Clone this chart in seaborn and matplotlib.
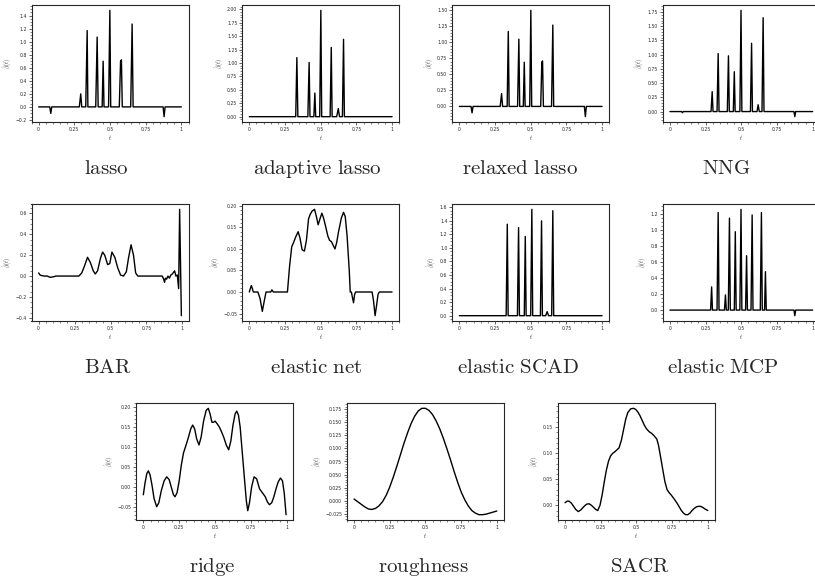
import numpy as np
import pandas as pd
import matplotlib
matplotlib.use("Agg")
import matplotlib.pyplot as plt
from matplotlib.ticker import MultipleLocator
import seaborn as sns

# -----------------------------
# 1. DATA
# -----------------------------
lasso_t = [0, 0.078, 0.085, 0.092, 0.285, 0.295, 0.302, 0.33, 0.34, 0.345,
           0.40, 0.41, 0.417, 0.445, 0.452, 0.458, 0.49, 0.499, 0.505,
           0.565, 0.574, 0.58, 0.586, 0.645, 0.655, 0.662, 0.872, 0.879, 0.886, 1.0]
lasso_y = [0, 0, -0.10, 0, 0, 0.20, 0, 0, 1.17, 0,
           0, 1.07, 0, 0, 0.70, 0, 0, 1.48, 0,
           0, 0.70, 0.72, 0, 0, 1.27, 0, 0, -0.15, 0, 0]

adalasso_t = [0, 0.325, 0.333, 0.340, 0.410, 0.419, 0.425, 0.452, 0.459, 0.465,
              0.493, 0.501, 0.507, 0.566, 0.574, 0.580, 0.612, 0.623, 0.632,
              0.652, 0.660, 0.666, 1.0]
adalasso_y = [0, 0, 1.10, 0, 0, 1.01, 0, 0, 0.44, 0,
              0, 1.98, 0, 0, 1.29, 0, 0, 0.15, 0,
              0, 1.44, 0, 0]

relaxed_t = [0, 0.082, 0.089, 0.096, 0.286, 0.296, 0.303, 0.335, 0.343, 0.349,
             0.408, 0.417, 0.423, 0.448, 0.455, 0.461, 0.493, 0.501, 0.507,
             0.570, 0.578, 0.583, 0.589, 0.646, 0.655, 0.661, 0.876, 0.883, 0.890, 1.0]
relaxed_y = [0, 0, -0.10, 0, 0, 0.20, 0, 0, 1.17, 0,
             0, 1.05, 0, 0, 0.69, 0, 0, 1.50, 0,
             0, 0.69, 0.71, 0, 0, 1.27, 0, 0, -0.16, 0, 0]

nng_t = [0, 0.082, 0.088, 0.094, 0.288, 0.296, 0.302, 0.330, 0.338, 0.344,
         0.402, 0.410, 0.416, 0.444, 0.451, 0.457, 0.490, 0.498, 0.504,
         0.564, 0.572, 0.578, 0.610, 0.618, 0.626, 0.645, 0.653, 0.659,
         0.869, 0.875, 0.881, 1.0]
nng_y = [0, 0, -0.02, 0, 0, 0.35, 0, 0, 1.02, 0,
         0, 0.98, 0, 0, 0.70, 0, 0, 1.78, 0,
         0, 1.20, 0, 0, 0.12, 0, 0, 1.65, 0,
         0, -0.09, 0, 0]

bar_t = [0, 0.01, 0.02, 0.04, 0.06, 0.08, 0.10, 0.12, 0.20, 0.28,
         0.30, 0.32, 0.34, 0.36, 0.38, 0.394, 0.41, 0.43, 0.445, 0.46,
         0.48, 0.495, 0.51, 0.53, 0.55, 0.57, 0.59, 0.61, 0.625, 0.643,
         0.66, 0.675, 0.69, 0.75, 0.86, 0.87, 0.876, 0.882, 0.89, 0.90,
         0.91, 0.92, 0.93, 0.946, 0.955, 0.965, 0.974, 0.981, 0.993]
bar_y = [0.03, 0.01, 0.005, 0.0, 0.0, -0.012, -0.008, 0.0, 0.0, 0.0,
         0.03, 0.10, 0.18, 0.13, 0.05, 0.02, 0.05, 0.17, 0.23, 0.20,
         0.11, 0.12, 0.23, 0.18, 0.08, 0.01, 0.0, 0.04, 0.17, 0.30,
         0.20, 0.03, 0.0, 0.0, 0.0, -0.03, -0.06, -0.02, -0.03, 0.0,
         -0.02, 0.01, 0.02, 0.05, 0.0, 0.01, -0.12, 0.64, -0.38]

enet_t = [0, 0.007, 0.014, 0.021, 0.028, 0.06, 0.075, 0.091, 0.105, 0.117,
          0.15, 0.158, 0.162, 0.168, 0.20, 0.267, 0.282, 0.297, 0.31, 0.325,
          0.342, 0.355, 0.37, 0.386, 0.40, 0.415, 0.426, 0.44, 0.457, 0.47,
          0.482, 0.495, 0.508, 0.52, 0.536, 0.55, 0.562, 0.575, 0.60, 0.612,
          0.625, 0.645, 0.66, 0.672, 0.685, 0.70, 0.707, 0.715, 0.722, 0.73,
          0.738, 0.745, 0.86, 0.87, 0.881, 0.892, 0.902, 0.911, 1.0]
enet_y = [0, 0.008, 0.015, 0.008, 0, 0, -0.015, -0.045, -0.02, 0,
          0, 0.005, 0.003, 0, 0, 0, 0.06, 0.105, 0.115, 0.128,
          0.140, 0.125, 0.098, 0.095, 0.120, 0.170, 0.180, 0.188, 0.192, 0.175,
          0.156, 0.170, 0.183, 0.172, 0.150, 0.130, 0.120, 0.117, 0.100, 0.115,
          0.140, 0.172, 0.185, 0.175, 0.130, 0.05, 0, 0, -0.012, -0.025,
          -0.005, 0, 0, -0.02, -0.055, -0.03, -0.005, 0, 0]

escad_t = [0, 0.328, 0.336, 0.342, 0.407, 0.415, 0.421, 0.455, 0.462, 0.468,
           0.500, 0.508, 0.514, 0.568, 0.576, 0.582, 0.605, 0.615, 0.625,
           0.647, 0.655, 0.661, 1.0]
escad_y = [0, 0, 1.35, 0, 0, 1.30, 0, 0, 1.17, 0,
           0, 1.57, 0, 0, 1.40, 0, 0, 0.06, 0,
           0, 1.55, 0, 0]

emcp_t = [0, 0.285, 0.292, 0.298, 0.330, 0.338, 0.344, 0.382, 0.389, 0.395,
          0.409, 0.417, 0.423, 0.451, 0.458, 0.464, 0.490, 0.498, 0.504,
          0.530, 0.537, 0.543, 0.568, 0.576, 0.582, 0.633, 0.641, 0.647,
          0.663, 0.669, 0.675, 0.869, 0.875, 0.881, 1.0]
emcp_y = [0, 0, 0.29, 0, 0, 1.22, 0, 0, 0.19, 0,
          0, 1.15, 0, 0, 0.98, 0, 0, 1.26, 0,
          0, 0.68, 0, 0, 1.19, 0, 0, 1.22, 0,
          0, 0.48, 0, 0, -0.07, 0, 0]

ridge_t = [0, 0.012, 0.024, 0.035, 0.047, 0.06, 0.075, 0.093, 0.108, 0.125,
           0.145, 0.163, 0.18, 0.198, 0.21, 0.221, 0.235, 0.25, 0.265, 0.28,
           0.298, 0.315, 0.33, 0.344, 0.358, 0.372, 0.388, 0.403, 0.42, 0.438,
           0.453, 0.466, 0.478, 0.49, 0.50, 0.515, 0.53, 0.545, 0.56, 0.578,
           0.595, 0.61, 0.625, 0.64, 0.651, 0.663, 0.675, 0.69, 0.705, 0.718,
           0.728, 0.74, 0.755, 0.772, 0.79, 0.81, 0.83, 0.85, 0.865, 0.879,
           0.895, 0.91, 0.925, 0.94, 0.956, 0.97, 0.982, 0.995]
ridge_y = [-0.020, 0.010, 0.033, 0.040, 0.030, 0.005, -0.030, -0.050, -0.040, -0.010,
           0.015, 0.025, 0.018, -0.005, -0.020, -0.025, -0.015, 0.015, 0.055, 0.085,
           0.105, 0.125, 0.145, 0.155, 0.145, 0.120, 0.105, 0.125, 0.165, 0.192,
           0.197, 0.182, 0.162, 0.162, 0.165, 0.158, 0.150, 0.138, 0.125, 0.105,
           0.093, 0.115, 0.155, 0.183, 0.190, 0.180, 0.150, 0.085, 0.020, -0.035,
           -0.060, -0.040, 0.000, 0.025, 0.020, -0.005, -0.015, -0.025, -0.038, -0.045,
           -0.040, -0.025, -0.005, 0.012, 0.022, 0.015, -0.015, -0.070]

rough_t = [0, 0.025, 0.05, 0.075, 0.10, 0.125, 0.15, 0.175, 0.20, 0.225,
           0.25, 0.275, 0.30, 0.325, 0.35, 0.375, 0.40, 0.425, 0.45, 0.475,
           0.50, 0.525, 0.55, 0.575, 0.60, 0.625, 0.65, 0.675, 0.70, 0.725,
           0.75, 0.775, 0.80, 0.825, 0.85, 0.875, 0.90, 0.925, 0.95, 0.975, 1.0]
rough_y = [0.003, -0.002, -0.007, -0.012, -0.016, -0.017, -0.015, -0.010, -0.002, 0.010,
           0.026, 0.045, 0.066, 0.088, 0.110, 0.130, 0.148, 0.162, 0.172, 0.177,
           0.177, 0.173, 0.165, 0.153, 0.138, 0.120, 0.100, 0.079, 0.057, 0.036,
           0.017, 0.002, -0.010, -0.019, -0.024, -0.027, -0.027, -0.026, -0.024, -0.022, -0.020]

sacr_t = [0, 0.015, 0.028, 0.045, 0.06, 0.075, 0.093, 0.11, 0.13, 0.15,
          0.168, 0.185, 0.20, 0.215, 0.229, 0.245, 0.26, 0.275, 0.29, 0.305,
          0.32, 0.335, 0.346, 0.362, 0.378, 0.395, 0.41, 0.425, 0.44, 0.46,
          0.479, 0.495, 0.51, 0.525, 0.54, 0.555, 0.57, 0.59, 0.607, 0.625,
          0.643, 0.655, 0.67, 0.685, 0.70, 0.715, 0.73, 0.743, 0.757, 0.77,
          0.785, 0.80, 0.815, 0.83, 0.845, 0.86, 0.875, 0.89, 0.905, 0.92,
          0.935, 0.95, 0.965, 0.98, 1.0]
sacr_y = [0.005, 0.008, 0.008, 0.004, -0.002, -0.008, -0.012, -0.009, -0.003, 0.002,
          0.003, 0.000, -0.004, -0.008, -0.010, 0.000, 0.020, 0.045, 0.068, 0.085,
          0.095, 0.100, 0.102, 0.106, 0.110, 0.125, 0.145, 0.165, 0.178, 0.185,
          0.186, 0.184, 0.179, 0.172, 0.163, 0.154, 0.147, 0.141, 0.138, 0.133,
          0.127, 0.115, 0.092, 0.068, 0.045, 0.030, 0.024, 0.020, 0.015, 0.010,
          0.004, -0.003, -0.010, -0.015, -0.018, -0.018, -0.015, -0.010, -0.006, -0.003,
          -0.002, -0.002, -0.004, -0.007, -0.010]

names = ["lasso", "adaptive lasso", "relaxed lasso", "NNG",
         "BAR", "elastic net", "elastic SCAD", "elastic MCP",
         "ridge", "roughness", "SACR"]
curves = [(lasso_t, lasso_y), (adalasso_t, adalasso_y), (relaxed_t, relaxed_y), (nng_t, nng_y),
          (bar_t, bar_y), (enet_t, enet_y), (escad_t, escad_y), (emcp_t, emcp_y),
          (ridge_t, ridge_y), (rough_t, rough_y), (sacr_t, sacr_y)]
# y tick spacing where the automatic choice differs from the reference
ytick_step = [0.2, None, None, None, None, None, None, None, None, None, 0.05]

# -----------------------------
# 2. LAYOUT (pixels in a 815x585 figure)
# -----------------------------
W, H = 815, 585
ax_w, ax_h = 157, 117
lefts = [31.5, 242.2, 452.2, 662.8, 31.5, 242.2, 452.2, 662.8, 136.2, 346.9, 557.9]
tops = [5, 5, 5, 5, 204, 204, 204, 204, 403, 403, 403]
label_x = [106, 317, 520, 726, 108, 316, 518, 723, 212, 423, 640]
label_base = [174, 174, 174, 174, 373, 373, 373, 373, 572, 572, 572]

sns.set_style("ticks")
plt.rcParams["mathtext.fontset"] = "cm"
plt.rcParams["font.family"] = ["DejaVu Sans"]

fig = plt.figure(figsize=(W / 100, H / 100), dpi=100)

for i, (tt, yy) in enumerate(curves):
    ax = fig.add_axes([lefts[i] / W, 1 - (tops[i] + ax_h) / H, ax_w / W, ax_h / H])
    df = pd.DataFrame({"t": tt, "y": yy})
    sns.lineplot(data=df, x="t", y="y", ax=ax, color="black", linewidth=1.0,
                 estimator=None, sort=False)
    ax.set_xticks([0, 0.25, 0.5, 0.75, 1])
    ax.set_xticklabels(["0", "0.25", "0.5", "0.75", "1"])
    if ytick_step[i]:
        ax.yaxis.set_major_locator(MultipleLocator(ytick_step[i]))
    ax.minorticks_on()
    ax.tick_params(which="major", length=2, width=0.5, labelsize=3.3, pad=1.5)
    ax.tick_params(which="minor", length=1.2, width=0.4)
    ax.set_xlabel("$t$", fontsize=4, labelpad=0.5)
    ax.set_ylabel(r"$\hat{\beta}(t)$", fontsize=4, labelpad=1)
    for sp in ax.spines.values():
        sp.set_linewidth(0.8)
        sp.set_visible(True)
    fig.text(label_x[i] / W, 1 - label_base[i] / H,
             r"$\mathrm{" + names[i].replace(" ", r"\ ") + "}$",
             fontsize=15, ha="center", va="baseline")

fig.savefig("out.png", dpi=100)
